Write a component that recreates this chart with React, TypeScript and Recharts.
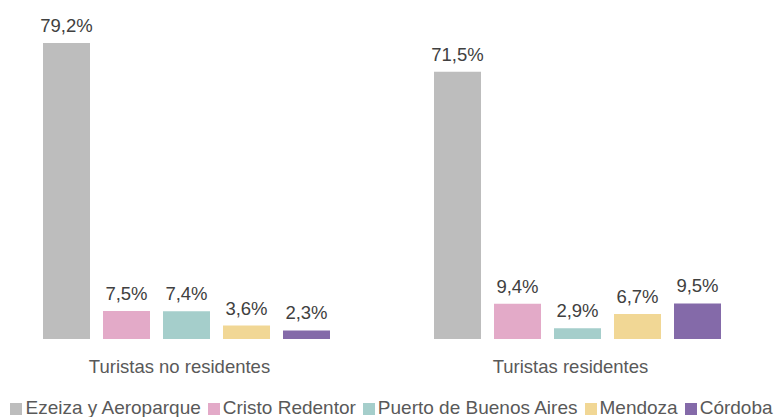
import { BarChart, Bar, XAxis, YAxis, LabelList, Legend } from "recharts";

const CATEGORIES = ["Turistas no residentes", "Turistas residentes"];
const EZEIZA = [79.2, 71.5];
const CRISTO = [7.5, 9.4];
const PUERTO = [7.4, 2.9];
const MENDOZA = [3.6, 6.7];
const CORDOBA = [2.3, 9.5];

const SERIES = [
  { key: "ezeiza", name: "Ezeiza y Aeroparque", values: EZEIZA, color: "#bdbdbd" },
  { key: "cristo", name: "Cristo Redentor", values: CRISTO, color: "#e3aac8" },
  { key: "puerto", name: "Puerto de Buenos Aires", values: PUERTO, color: "#a5cecb" },
  { key: "mendoza", name: "Mendoza", values: MENDOZA, color: "#f1d795" },
  { key: "cordoba", name: "Córdoba", values: CORDOBA, color: "#846aa9" },
];

const data = CATEGORIES.map((cat, i) => {
  const row: Record<string, string | number> = { cat };
  SERIES.forEach((s) => {
    row[s.key] = s.values[i];
  });
  return row;
});

const FONT = "'Liberation Sans', Arial, Helvetica, sans-serif";
const fmt = (v: any) => String(v).replace(".", ",") + "%";

function LegendContent() {
  return (
    <div
      style={{
        display: "flex",
        justifyContent: "center",
        fontFamily: FONT,
        fontSize: 19,
        lineHeight: "22px",
        height: 22,
        color: "#595959",
        whiteSpace: "nowrap",
        paddingLeft: 26,
        transform: "translateY(2px)",
      }}
    >
      {SERIES.map((s) => (
        <span key={s.key} style={{ display: "inline-flex", alignItems: "center", marginRight: 7 }}>
          <span
            style={{
              display: "inline-block",
              width: 12,
              height: 12,
              background: s.color,
              marginRight: 3,
              marginTop: 2,
            }}
          />
          {s.name}
        </span>
      ))}
    </div>
  );
}

export default function App() {
  return (
    <div style={{ position: "absolute", left: -9, top: 0, width: 782, height: 417 }}>
      <BarChart
        width={782}
        height={417}
        data={data}
        margin={{ top: 40, right: 0, bottom: 0, left: 0 }}
        barSize={47}
        barGap={13}
      >
        <XAxis
          dataKey="cat"
          axisLine={false}
          tickLine={false}
          tickMargin={15}
          height={56}
          tick={{ fill: "#595959", fontSize: 18.5, fontFamily: FONT, dx: -7 }}
        />
        <YAxis hide domain={[0, 80]} />
        <Legend content={<LegendContent />} verticalAlign="bottom" />
        {SERIES.map((s) => (
          <Bar key={s.key} dataKey={s.key} name={s.name} fill={s.color} isAnimationActive={false}>
            <LabelList
              dataKey={s.key}
              position="top"
              offset={11}
              formatter={fmt}
              style={{ fill: "#404040", fontSize: 18.5, fontFamily: FONT }}
            />
          </Bar>
        ))}
      </BarChart>
    </div>
  );
}
